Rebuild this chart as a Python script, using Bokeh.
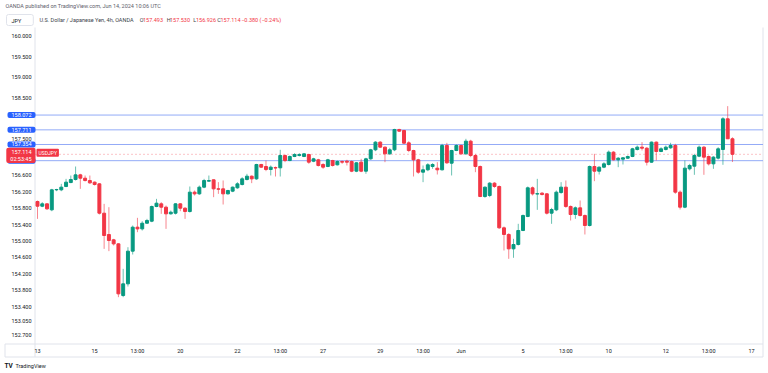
from bokeh.plotting import figure
from bokeh.models import ColumnDataSource, Label
from bokeh.core.properties import value
from bokeh.embed import file_html
from bokeh.resources import INLINE

# ---------------- data (USD/JPY, 4h, OANDA) ----------------
opens = [155.963, 155.849, 155.906, 155.760, 156.248, 156.248, 156.329, 156.426, 156.500, 156.613,
         156.532, 156.475, 156.435, 156.394, 155.678, 155.158, 155.028, 154.930, 153.670, 153.955,
         154.752, 155.337, 155.296, 155.434, 155.483, 155.841, 155.906, 155.825, 155.662, 155.678,
         155.906, 155.800, 155.719, 156.191, 156.150, 156.313, 156.459, 156.492, 156.272, 156.272,
         156.150, 156.216, 156.297, 156.378, 156.500, 156.581, 156.516, 156.866, 156.817, 156.744,
         156.790, 156.785, 157.085, 156.963, 157.061, 157.085, 157.061, 157.110, 156.947, 156.980,
         156.866, 156.817, 156.963, 156.858, 156.939, 156.947, 156.939, 156.703, 156.923, 156.703,
         157.004, 157.224, 157.411, 157.289, 157.126, 157.224, 157.720, 157.695, 157.394, 157.207,
         156.980, 156.679, 156.736, 156.817, 156.776, 156.736, 157.329, 156.898, 157.207, 157.329,
         157.126, 157.435, 157.085, 156.817, 156.085, 156.110, 156.411, 156.329, 155.321, 155.159,
         154.809, 154.915, 155.256, 155.598, 156.297, 156.145, 156.167, 156.150, 155.679, 155.760,
         156.183, 156.313, 155.842, 155.646, 155.809, 155.622, 155.378, 156.817, 156.703, 156.801,
         156.866, 157.167, 156.980, 156.996, 157.020, 157.061, 157.232, 157.289, 157.264, 156.923,
         157.411, 157.183, 157.232, 157.273, 157.329, 156.191, 155.825, 156.760, 156.825, 157.069,
         157.289, 157.061, 156.882, 157.021, 157.232, 157.980, 157.493]
highs = [155.987, 155.947, 155.922, 156.272, 156.272, 156.394, 156.516, 156.597, 156.817, 156.638,
         156.597, 156.597, 156.451, 156.410, 155.906, 155.825, 155.052, 154.947, 154.321, 154.849,
         155.378, 155.565, 155.483, 155.540, 155.865, 156.028, 155.947, 155.865, 155.743, 155.922,
         155.922, 155.825, 156.329, 156.231, 156.353, 156.516, 156.597, 156.500, 156.435, 156.476,
         156.248, 156.329, 156.435, 156.557, 156.638, 156.598, 156.882, 156.882, 156.963, 156.842,
         156.817, 157.224, 157.110, 157.085, 157.142, 157.142, 157.142, 157.126, 157.029, 157.004,
         156.898, 157.004, 156.980, 156.963, 156.963, 156.980, 156.963, 156.923, 157.004, 157.029,
         157.248, 157.435, 157.435, 157.305, 157.272, 157.736, 157.736, 157.711, 157.435, 157.224,
         157.004, 156.842, 156.898, 156.898, 156.923, 157.370, 157.394, 157.224, 157.354, 157.346,
         157.492, 157.468, 157.126, 156.842, 156.329, 156.435, 156.435, 156.354, 155.354, 155.191,
         155.053, 155.419, 155.646, 156.329, 156.329, 156.516, 156.191, 156.167, 155.809, 156.232,
         156.435, 156.476, 155.866, 155.842, 155.988, 155.646, 156.842, 157.126, 156.817, 156.923,
         157.207, 157.191, 157.045, 157.045, 157.085, 157.272, 157.329, 157.411, 157.289, 157.427,
         157.427, 157.289, 157.329, 157.395, 157.370, 156.232, 156.964, 156.882, 157.126, 157.329,
         157.313, 157.086, 157.069, 157.289, 158.021, 158.289, 157.530]
lows = [155.540, 155.825, 155.760, 155.727, 156.215, 156.215, 156.313, 156.410, 156.475, 156.272,
        156.451, 156.394, 156.353, 155.646, 154.808, 154.752, 154.890, 153.630, 153.630, 153.890,
        154.670, 155.215, 155.256, 155.418, 155.459, 155.825, 155.662, 155.296, 155.646, 155.646,
        155.727, 155.540, 155.695, 156.109, 156.126, 156.288, 156.451, 156.069, 156.150, 155.890,
        156.134, 156.191, 156.272, 156.354, 156.476, 156.411, 156.492, 156.785, 156.703, 156.598,
        156.573, 156.573, 156.923, 156.947, 157.045, 157.061, 157.045, 156.882, 156.923, 156.817,
        156.760, 156.801, 156.817, 156.842, 156.882, 156.842, 156.679, 156.679, 156.679, 156.638,
        156.980, 157.191, 157.272, 156.923, 157.102, 157.191, 157.663, 157.370, 157.167, 156.573,
        156.638, 156.435, 156.703, 156.760, 156.622, 156.720, 156.882, 156.598, 157.191, 157.102,
        157.102, 157.045, 156.679, 156.069, 156.053, 156.069, 156.297, 155.297, 154.768, 154.565,
        154.590, 154.890, 155.240, 155.581, 156.110, 155.760, 156.110, 155.646, 155.419, 155.728,
        156.150, 155.809, 155.500, 155.541, 155.598, 155.159, 155.354, 156.459, 156.622, 156.776,
        156.842, 156.963, 156.801, 156.866, 157.004, 157.045, 157.208, 157.208, 156.842, 156.907,
        156.964, 157.167, 157.208, 157.248, 156.151, 155.769, 155.801, 156.720, 156.614, 157.045,
        156.614, 156.842, 156.760, 156.988, 156.858, 157.492, 156.926]
closes = [155.849, 155.906, 155.784, 156.248, 156.256, 156.313, 156.435, 156.500, 156.613, 156.532,
          156.475, 156.418, 156.378, 155.678, 155.134, 155.012, 154.930, 153.711, 153.955, 154.752,
          155.337, 155.296, 155.434, 155.500, 155.841, 155.922, 155.825, 155.662, 155.703, 155.906,
          155.800, 155.719, 156.191, 156.150, 156.313, 156.475, 156.475, 156.272, 156.264, 156.150,
          156.232, 156.313, 156.394, 156.516, 156.581, 156.516, 156.866, 156.801, 156.744, 156.801,
          156.780, 157.085, 156.963, 157.061, 157.110, 157.110, 157.126, 156.923, 157.004, 156.842,
          156.801, 156.980, 156.842, 156.939, 156.923, 156.923, 156.703, 156.907, 156.703, 157.004,
          157.224, 157.411, 157.289, 157.126, 157.224, 157.720, 157.679, 157.386, 157.207, 156.980,
          156.679, 156.736, 156.858, 156.866, 156.736, 157.329, 156.907, 157.207, 157.329, 157.126,
          157.435, 157.085, 156.817, 156.085, 156.313, 156.411, 156.329, 155.321, 155.159, 154.809,
          154.915, 155.256, 155.622, 156.297, 156.150, 156.155, 156.134, 155.679, 155.768, 156.191,
          156.313, 155.842, 155.646, 155.809, 155.622, 155.378, 156.817, 156.703, 156.801, 156.882,
          157.167, 156.980, 157.020, 157.029, 157.061, 157.248, 157.289, 157.264, 156.923, 157.411,
          157.183, 157.248, 157.289, 157.329, 156.191, 155.825, 156.777, 156.842, 157.086, 157.289,
          157.045, 156.882, 157.045, 157.248, 157.980, 157.493, 157.114]

level_lines = [158.072, 157.711, 157.354, 156.959]
last_price = 157.114
countdown = "02:53:45"
symbol = "USDJPY"
change_text = "\u22120.380 (\u22120.24%)"

price_ticks = [160.0, 159.5, 159.0, 158.5, 157.5, 156.6, 156.2, 155.8, 155.4, 155.0,
               154.6, 154.2, 153.8, 153.4, 153.05, 152.7]
time_tick_bars = [0, 12, 21, 30, 42, 51, 60, 72, 81, 89, 102, 111, 120, 132, 141, 150]
time_tick_labels = ["13", "15", "13:00", "20", "22", "13:00", "27", "29", "13:00", "Jun",
                    "5", "13:00", "10", "12", "13:00", "17"]

# ---------------- layout / styling ----------------
W, H = 768, 373
BAR0_PX, BAR_PX = 37.0, 4.76          # page x of first bar, px per bar
P0, P0_PX, YEN_PX = 160.0, 35.5, 41.0  # reference price, its page y, px per yen


def xd(px):  # page x -> bar coordinate
    return (px - BAR0_PX) / BAR_PX


def yd(py):  # page y -> price coordinate
    return P0 - (py - P0_PX) / YEN_PX


PANE_L, PANE_R, PANE_T, PANE_B = 34.5, 762.5, 27.0, 343.5
TIME_B, TIME_L = 356.5, 4.5

GREEN = "#089981"
RED = "#F23645"
BLUE = "#2962FF"
GRID = "#e0e3eb"
TXT = "#131722"
FONT = "Roboto"
FS = "5.5px"

n = len(opens)
colors = [GREEN if c >= o else RED for o, c in zip(opens, closes)]
src = ColumnDataSource(dict(
    x=list(range(n)),
    top=[max(o, c) for o, c in zip(opens, closes)],
    bottom=[min(o, c) for o, c in zip(opens, closes)],
    high=highs, low=lows, color=colors))

p = figure(width=W, height=H, x_range=(xd(0), xd(W)), y_range=(yd(H), yd(0)),
           output_backend="svg", toolbar_location=None,
           x_axis_type=None, y_axis_type=None,
           min_border=0, min_border_left=0, min_border_right=0,
           min_border_top=0, min_border_bottom=0,
           background_fill_color="white", border_fill_color="white",
           outline_line_color=None)
p.grid.visible = False

# pane borders
xl, xr = xd(PANE_L), xd(PANE_R)
yt, yb, ytb = yd(PANE_T), yd(PANE_B), yd(TIME_B)
p.segment(x0=[xl, xr, xd(TIME_L), xd(TIME_L), xd(TIME_L)],
          y0=[yt, yt, yb, ytb, yb],
          x1=[xl, xr, xr, xr, xd(TIME_L)],
          y1=[ytb, ytb, yb, ytb, ytb],
          line_color=GRID, line_width=1)

# level lines and last-price line
p.segment(x0=[xl] * len(level_lines), x1=[xr] * len(level_lines),
          y0=level_lines, y1=level_lines, line_color="#93abf7", line_width=1)
p.segment(x0=[xl], x1=[xr], y0=[last_price], y1=[last_price], line_color=RED,
          line_alpha=0.3, line_width=1, line_dash="2 2")

# candles
p.segment(x0="x", y0="low", x1="x", y1="high", line_color="color", line_alpha=0.6,
          line_width=1, source=src)
p.vbar(x="x", top="top", bottom="bottom", width=0.62, fill_color="color",
       line_color="color", line_width=1, source=src)

# price scale labels
p.text(x=[xl] * len(price_ticks), y=price_ticks, text=[f"{t:.3f}" for t in price_ticks],
       x_offset=-3.5, text_align="right", text_baseline="middle",
       text_font=value(FONT), text_font_size=FS, text_color=TXT)
# time scale labels
p.text(x=time_tick_bars, y=[yb] * len(time_tick_bars), text=time_tick_labels,
       y_offset=6.5, text_align="center", text_baseline="middle",
       text_font=value(FONT), text_font_size=FS, text_color=TXT)

# price tags on the scale
for lvl in level_lines:
    p.add_layout(Label(x=35, y=lvl, x_units="screen", y_units="data", text=f"{lvl:.3f}",
                       text_color="white", text_font=FONT, text_font_size=FS,
                       text_align="right", text_baseline="middle",
                       background_fill_color=BLUE, border_radius=2,
                       padding=dict(left=4, right=4, top=1, bottom=1)))
p.add_layout(Label(x=35, y=last_price, x_units="screen", y_units="data", y_offset=-1,
                   text=f"{last_price:.3f}\n{countdown}",
                   text_color="white", text_font=FONT, text_font_size=FS,
                   text_align="right", text_baseline="middle",
                   background_fill_color=RED, border_radius=2,
                   padding=dict(left=4, right=4, top=1, bottom=1)))
p.add_layout(Label(x=36, y=last_price, x_units="screen", y_units="data", y_offset=1.5,
                   text=symbol, text_color="white", text_font=FONT, text_font_size="5px",
                   text_align="left", text_baseline="middle",
                   background_fill_color=RED, border_radius=1,
                   padding=dict(left=2, right=2, top=1, bottom=1)))


def page_label(text, px, py, color=TXT, size=FS, style="normal", **kw):
    """Text placed at page position (px from left, py from top)."""
    p.add_layout(Label(x=px, y=H - py, x_units="screen", y_units="screen",
                       text=text, text_color=color, text_font=FONT, text_font_size=size,
                       text_font_style=style, text_baseline="middle", **kw))


page_label("OANDA published on TradingView.com, Jun 14, 2024 10:06 UTC", 5, 5.5, color="#5d606b")
page_label("JPY", 6, 19.5, color=TXT, border_line_color=GRID, border_radius=2,
           padding=dict(left=5, right=12, top=3, bottom=2))
page_label("U.S. Dollar / Japanese Yen, 4h, OANDA", 39, 19.5, color="#3b3f4a")
ohlc = [("O", 139.3, opens[-1], 142.5), ("H", 166.3, highs[-1], 169.5),
        ("L", 192.7, lows[-1], 195.5), ("C", 216.7, closes[-1], 220.0)]
for letter, lx, val, vx in ohlc:
    page_label(letter, lx, 19.5, color="#3b3f4a")
    page_label(f"{val:.3f}", vx, 19.5, color=RED)
page_label(change_text, 240.7, 19.5, color=RED)
page_label("TV", 4, 365, color=TXT, size="6.5px", style="bold")
page_label("TradingView", 15, 365, color=TXT, size="5.5px")

open("out.html", "w").write(file_html(p, INLINE))
